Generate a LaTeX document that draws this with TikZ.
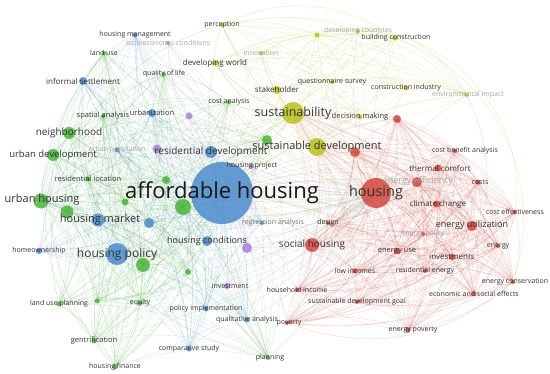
\documentclass[tikz,border=0pt]{standalone}
\usepackage{fontspec}
\setmainfont{Open Sans}
\usetikzlibrary{positioning}
\definecolor{avblue}{RGB}{76,140,205}
\definecolor{avgreen}{RGB}{76,180,60}
\definecolor{avyellow}{RGB}{185,195,30}
\definecolor{avred}{RGB}{212,72,62}
\definecolor{avpurple}{RGB}{170,130,220}
\definecolor{avbrown}{RGB}{200,120,90}
\pgfdeclarelayer{bg}
\pgfsetlayers{bg,main}
\newcommand\blueset{ah,hpol,hmkt,resdev,hcond,infs,urbz,hown,hman,upop,b1,pimp,comp,regr,qual}
\newcommand\greenset{uh,nbh,udev,g1,g2,g3,g4,g5,g6,g7,rloc,spat,qol,luse,cana,lup,g8,eq,gent,hfin,plan}
\newcommand\yellowset{sust,sdev,stk,dw,perc,innov,devc,y1,bcon,qsur,cind,envi,dmak}
\newcommand\redset{hs,r1,r2,shou,eeff,therm,clim,eutil,cba,costs,ceff,epol,enrg,euse,inv,des,lowi,resen,econs,econ,sdg,pov,epov,hinc}
\newcommand\purpleset{p1,p2,soc,hproj,p3,invm}

\begin{document}
\begin{tikzpicture}[x=1pt, y=-1pt,
  kw/.style={circle, inner sep=0pt, fill=#1, fill opacity=0.85, draw=none},
  tx/.style={font=\fontsize{#1}{#1}\selectfont, text=black!80, inner sep=0pt},
  txf/.style={font=\fontsize{#1}{#1}\selectfont, text=black!35, inner sep=0pt},
  link/.style={#1, opacity=0.22, line width=0.4pt},
  arc/.style={#1, opacity=0.3, line width=0.4pt}]
  \useasboundingbox (0,0) rectangle (550,374);
  % Blue cluster
  \node[kw=avblue, minimum size=62pt] (ah) at (222,193) {};
  \node[kw=avblue, minimum size=22pt] (hpol) at (117,254) {};
  \node[kw=avblue, minimum size=13pt] (hmkt) at (98,220) {};
  \node[kw=avblue, minimum size=12pt] (resdev) at (211,152) {};
  \node[kw=avblue, minimum size=10pt] (hcond) at (207,241) {};
  \node[kw=avblue, minimum size=8pt] (infs) at (83,81) {};
  \node[kw=avblue, minimum size=8pt] (urbz) at (152,113) {};
  \node[kw=avblue, minimum size=6pt] (hown) at (39,251) {};
  \node[kw=avblue, minimum size=5pt] (hman) at (135,35) {};
  \node[kw=avblue, minimum size=5pt] (upop) at (117,150) {};
  \node[kw=avblue, minimum size=10pt] (b1) at (149,223) {};
  \node[kw=avblue, minimum size=5pt] (pimp) at (206,309) {};
  \node[kw=avblue, minimum size=5pt] (comp) at (189,349) {};
  \node[kw=avblue, minimum size=4pt] (regr) at (262,223) {};
  \node[kw=avblue, minimum size=5pt] (qual) at (247,320) {};
  % Green cluster
  \node[kw=avgreen, minimum size=15pt] (uh) at (41,201) {};
  \node[kw=avgreen, minimum size=12pt] (nbh) at (69,133) {};
  \node[kw=avgreen, minimum size=12pt] (udev) at (53,155) {};
  \node[kw=avgreen, minimum size=13pt] (g1) at (67,212) {};
  \node[kw=avgreen, minimum size=16pt] (g2) at (183,207) {};
  \node[kw=avgreen, minimum size=7pt] (g3) at (125,202) {};
  \node[kw=avgreen, minimum size=8pt] (g4) at (166,180) {};
  \node[kw=avgreen, minimum size=14pt] (g5) at (143,265) {};
  \node[kw=avgreen, minimum size=6pt] (g6) at (188,272) {};
  \node[kw=avgreen, minimum size=10pt] (g7) at (267,140) {};
  \node[kw=avgreen, minimum size=5pt] (rloc) at (88,179) {};
  \node[kw=avgreen, minimum size=4pt] (spat) at (103,116) {};
  \node[kw=avgreen, minimum size=4pt] (qol) at (164,74) {};
  \node[kw=avgreen, minimum size=4pt] (luse) at (104,53) {};
  \node[kw=avgreen, minimum size=4pt] (cana) at (229,102) {};
  \node[kw=avgreen, minimum size=5pt] (lup) at (59,304) {};
  \node[kw=avgreen, minimum size=5pt] (g8) at (97,301) {};
  \node[kw=avgreen, minimum size=5pt] (eq) at (140,303) {};
  \node[kw=avgreen, minimum size=5pt] (gent) at (94,341) {};
  \node[kw=avgreen, minimum size=5pt] (hfin) at (115,367) {};
  \node[kw=avgreen, minimum size=4pt] (plan) at (268,358) {};
  % Yellow cluster
  \node[kw=avyellow, minimum size=22pt] (sust) at (293,113) {};
  \node[kw=avyellow, minimum size=18pt] (sdev) at (317,147) {};
  \node[kw=avyellow, minimum size=8pt] (stk) at (277,90) {};
  \node[kw=avyellow, minimum size=6pt] (dw) at (215,63) {};
  \node[kw=avyellow, minimum size=4pt] (perc) at (222,25) {};
  \node[kw=avyellow, minimum size=4pt] (innov) at (261,53) {};
  \node[kw=avyellow, minimum size=4pt] (devc) at (358,31) {};
  \node[kw=avyellow, minimum size=5pt] (y1) at (317,35) {};
  \node[kw=avyellow, minimum size=5pt] (bcon) at (395,38) {};
  \node[kw=avyellow, minimum size=4pt] (qsur) at (332,82) {};
  \node[kw=avyellow, minimum size=5pt] (cind) at (406,88) {};
  \node[kw=avyellow, minimum size=4pt] (envi) at (467,95) {};
  \node[kw=avyellow, minimum size=5pt] (dmak) at (360,117) {};
  % Red cluster
  \node[kw=avred, minimum size=30pt] (hs) at (376,193) {};
  \node[kw=avred, minimum size=10pt] (r1) at (355,152) {};
  \node[kw=avred, minimum size=8pt] (r2) at (397,119) {};
  \node[kw=avred, minimum size=14pt] (shou) at (312,245) {};
  \node[kw=avred, minimum size=10pt] (eeff) at (417,182) {};
  \node[kw=avred, minimum size=7pt] (therm) at (438,168) {};
  \node[kw=avred, minimum size=7pt] (clim) at (437,204) {};
  \node[kw=avred, minimum size=10pt] (eutil) at (472,226) {};
  \node[kw=avred, minimum size=4pt] (cba) at (455,151) {};
  \node[kw=avred, minimum size=5pt] (costs) at (478,182) {};
  \node[kw=avred, minimum size=4pt] (ceff) at (515,212) {};
  \node[kw=avred, minimum size=4pt] (epol) at (423,234) {};
  \node[kw=avred, minimum size=4pt] (enrg) at (498,246) {};
  \node[kw=avred, minimum size=6pt] (euse) at (397,251) {};
  \node[kw=avred, minimum size=6pt] (inv) at (452,257) {};
  \node[kw=avred, minimum size=4pt] (des) at (328,223) {};
  \node[kw=avred, minimum size=5pt] (lowi) at (355,271) {};
  \node[kw=avred, minimum size=4pt] (resen) at (425,271) {};
  \node[kw=avred, minimum size=4pt] (econs) at (513,282) {};
  \node[kw=avred, minimum size=5pt] (econ) at (474,294) {};
  \node[kw=avred, minimum size=4pt] (sdg) at (357,302) {};
  \node[kw=avred, minimum size=4pt] (pov) at (287,323) {};
  \node[kw=avred, minimum size=5pt] (epov) at (408,330) {};
  \node[kw=avred, minimum size=4pt] (hinc) at (297,290) {};
  % Purple cluster
  \node[kw=avpurple, minimum size=9pt] (p1) at (157,149) {};
  \node[kw=avpurple, minimum size=7pt] (p2) at (189,116) {};
  \node[kw=avpurple, minimum size=4pt] (soc) at (168,43) {};
  \node[kw=avpurple, minimum size=5pt] (hproj) at (252,166) {};
  \node[kw=avpurple, minimum size=10pt] (p3) at (247,248) {};
  \node[kw=avpurple, minimum size=6pt] (invm) at (227,286) {};
  % Labels
  \node[tx=22, text=black!90] (ah-t) at (ah) {affordable housing};
  \node[tx=12] (hpol-t) at (hpol) {housing policy};
  \node[tx=11] (hmkt-t) at (100,220) {housing market};
  \node[tx=10] (resdev-t) at (resdev) {residential development};
  \node[tx=9] (hcond-t) at (hcond) {housing conditions};
  \node[tx=8] (infs-t) at (infs) {informal settlement};
  \node[tx=7.5] (urbz-t) at (urbz) {urbanization};
  \node[tx=7] (hown-t) at (hown) {homeownership};
  \node[tx=7] (hman-t) at (hman) {housing management};
  \node[txf=7] (upop-t) at (upop) {urban population};
  \node[tx=7] (pimp-t) at (pimp) {policy implementation};
  \node[tx=7] (comp-t) at (comp) {comparative study};
  \node[tx=7, text=black!55] (regr-t) at (273,223) {regression analysis};
  \node[tx=7] (qual-t) at (qual) {qualitative analysis};
  \node[tx=11] (uh-t) at (42,200) {urban housing};
  \node[tx=10] (nbh-t) at (nbh) {neighborhood};
  \node[tx=9.5] (udev-t) at (udev) {urban development};
  \node[tx=7.5] (rloc-t) at (rloc) {residential location};
  \node[tx=7.5] (spat-t) at (spat) {spatial analysis};
  \node[tx=7] (qol-t) at (qol) {quality of life};
  \node[tx=7] (luse-t) at (luse) {land use};
  \node[tx=7] (cana-t) at (cana) {cost analysis};
  \node[tx=7] (lup-t) at (lup) {land use planning};
  \node[tx=7] (eq-t) at (eq) {equity};
  \node[tx=7.5] (gent-t) at (gent) {gentrification};
  \node[tx=7] (hfin-t) at (hfin) {housing finance};
  \node[tx=7] (plan-t) at (270,358) {planning};
  \node[tx=12.5] (sust-t) at (sust) {sustainability};
  \node[tx=11] (sdev-t) at (sdev) {sustainable development};
  \node[tx=8] (stk-t) at (stk) {stakeholder};
  \node[tx=8] (dw-t) at (dw) {developing world};
  \node[tx=7] (perc-t) at (perc) {perception};
  \node[txf=7] (innov-t) at (innov) {innovation};
  \node[txf=7] (devc-t) at (devc) {developing countries};
  \node[tx=7] (bcon-t) at (396,38) {building construction};
  \node[tx=7] (qsur-t) at (qsur) {questionnaire survey};
  \node[tx=7] (cind-t) at (cind) {construction industry};
  \node[txf=7] (envi-t) at (468,95) {environmental impact};
  \node[tx=7.5] (dmak-t) at (dmak) {decision making};
  \node[tx=14.5] (hs-t) at (hs) {housing};
  \node[tx=10] (shou-t) at (shou) {social housing};
  \node[txf=9] (eeff-t) at (418,181) {energy efficiency};
  \node[tx=8] (therm-t) at (440,168) {thermal comfort};
  \node[tx=8] (clim-t) at (438,204) {climate change};
  \node[tx=9] (eutil-t) at (472,225) {energy utilization};
  \node[tx=7] (cba-t) at (465,151) {cost benefit analysis};
  \node[tx=7] (costs-t) at (480,182) {costs};
  \node[tx=7] (ceff-t) at (ceff) {cost effectiveness};
  \node[txf=7] (epol-t) at (epol) {energy policy};
  \node[tx=7] (enrg-t) at (enrg) {energy};
  \node[tx=7.5] (euse-t) at (euse) {energy use};
  \node[tx=8] (inv-t) at (inv) {investments};
  \node[tx=7] (des-t) at (des) {design};
  \node[tx=7] (lowi-t) at (lowi) {low incomes};
  \node[tx=7] (resen-t) at (resen) {residential energy};
  \node[tx=7] (econs-t) at (515,282) {energy conservation};
  \node[tx=7] (econ-t) at (econ) {economic and social effects};
  \node[tx=7] (sdg-t) at (sdg) {sustainable development goal};
  \node[tx=7] (pov-t) at (289,323) {poverty};
  \node[tx=7] (epov-t) at (413,330) {energy poverty};
  \node[tx=7] (hinc-t) at (hinc) {household income};
  \node[txf=7] (soc-t) at (soc) {socioeconomic conditions};
  \node[tx=7] (hproj-t) at (hproj) {housing project};
  \node[tx=7] (invm-t) at (230,286) {investment};
  % Links
  \begin{pgfonlayer}{bg}
    \fill[white] (0,0) rectangle (550,374);
    \foreach \a [count=\i] in \blueset {\foreach \b [count=\j] in \blueset {\ifnum\i<\j \draw[link=avblue] (\a.center) to[bend left=15] (\b.center);\fi}}
    \foreach \a [count=\i] in \greenset {\foreach \b [count=\j] in \greenset {\ifnum\i<\j \draw[link=avgreen] (\a.center) to[bend left=15] (\b.center);\fi}}
    \foreach \a [count=\i] in \yellowset {\foreach \b [count=\j] in \yellowset {\ifnum\i<\j \draw[link=avyellow] (\a.center) to[bend left=15] (\b.center);\fi}}
    \foreach \a [count=\i] in \redset {\foreach \b [count=\j] in \redset {\ifnum\i<\j \draw[link=avred] (\a.center) to[bend left=15] (\b.center);\fi}}
    \foreach \a [count=\i] in \purpleset {\foreach \b [count=\j] in \purpleset {\ifnum\i<\j \draw[link=avpurple] (\a.center) to[bend left=15] (\b.center);\fi}}
    \foreach \b in \greenset {\draw[link=avgreen] (ah.center) to[bend left=15] (\b.center);}
    \foreach \b in \yellowset {\draw[link=avyellow] (ah.center) to[bend left=15] (\b.center);}
    \foreach \b in \redset {\draw[link=avbrown] (ah.center) to[bend left=15] (\b.center);}
    \foreach \b in \purpleset {\draw[link=avpurple] (ah.center) to[bend left=15] (\b.center);}
    \foreach \b in \greenset {\draw[link=avgreen] (hs.center) to[bend left=15] (\b.center);}
    \foreach \b in \yellowset {\draw[link=avbrown] (hs.center) to[bend left=15] (\b.center);}
    \foreach \b in \purpleset {\draw[link=avpurple] (hs.center) to[bend left=15] (\b.center);}
    \foreach \b in {hpol,hmkt,resdev,hcond,urbz,pimp,qual} {\draw[link=avblue] (hs.center) to[bend left=15] (\b.center);}
    \foreach \b in \redset {\draw[link=avbrown] (sust.center) to[bend left=15] (\b.center);}
    \foreach \b in \redset {\draw[link=avbrown] (sdev.center) to[bend left=15] (\b.center);}
    \foreach \b in {uh,nbh,udev,g1,g2,g4,g5,g7,qol,cana,dw,spat} {\draw[link=avgreen] (sust.center) to[bend left=15] (\b.center);}
    \foreach \b in \blueset {\draw[link=avblue] (uh.center) to[bend left=15] (\b.center);}
    \foreach \b in \blueset {\draw[link=avblue] (g2.center) to[bend left=15] (\b.center);}
    \foreach \b in {shou,lowi,hinc,pov,sdg,des} {\draw[link=avpurple] (p3.center) to[bend left=15] (\b.center);}
    % long arcs round the map
    \draw[arc=avgreen] (luse.center) to[bend right=40] (hfin.center);
    \draw[arc=avgreen] (nbh.center) to[bend right=35] (gent.center);
    \draw[arc=avgreen] (perc.center) to[bend right=45] (lup.center);
    \draw[arc=avgreen] (udev.center) to[bend right=30] (plan.center);
    \draw[arc=avyellow] (bcon.center) to[bend left=45] (econs.center);
    \draw[arc=avyellow] (y1.center) to[bend left=40] (envi.center);
    \draw[arc=avyellow] (perc.center) to[bend left=30] (bcon.center);
    \draw[arc=avyellow] (devc.center) to[bend left=50] (ceff.center);
    \draw[arc=avbrown] (envi.center) to[bend left=40] (epov.center);
    \draw[arc=avbrown] (costs.center) to[bend left=35] (epov.center);
    \draw[arc=avbrown] (econs.center) to[bend left=30] (pov.center);
  \end{pgfonlayer}
\end{tikzpicture}
\end{document}
